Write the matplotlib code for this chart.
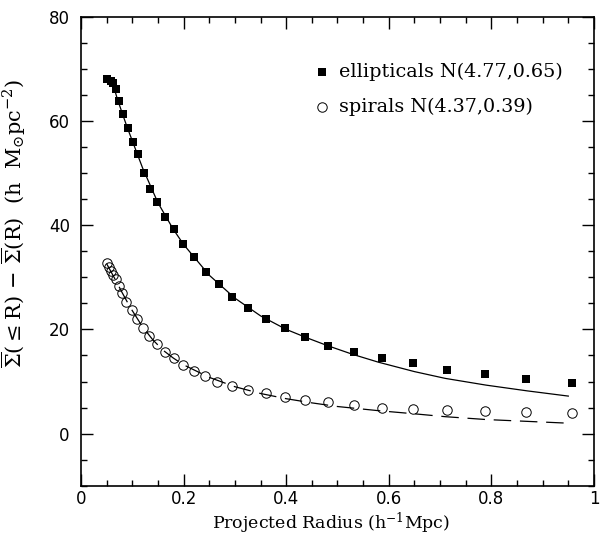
import numpy as np
import matplotlib
matplotlib.use("Agg")
import matplotlib.pyplot as plt
from matplotlib.ticker import MultipleLocator, FixedLocator, FixedFormatter

# ------  data  --------------------------------------------------------------
# ellipticals (filled squares)
r_ell = [0.050, 0.058, 0.063, 0.068, 0.075, 0.081, 0.092, 0.101, 0.111, 0.123,
         0.134, 0.148, 0.163, 0.181, 0.199, 0.220, 0.243, 0.269, 0.295, 0.326,
         0.361, 0.397, 0.437, 0.482, 0.532, 0.586, 0.647, 0.713, 0.787, 0.867,
         0.957]
s_ell = [68.0, 67.7, 67.3, 66.1, 63.9, 61.3, 58.6, 56.0, 53.6, 50.0,
         46.9, 44.4, 41.6, 39.3, 36.4, 33.8, 31.1, 28.7, 26.3, 24.2,
         21.9, 20.2, 18.5, 16.9, 15.6, 14.5, 13.5, 12.3, 11.4, 10.4,
         9.7]

# spirals (open circles)
r_sp = [0.050, 0.054, 0.058, 0.063, 0.068, 0.075, 0.079, 0.088, 0.099, 0.110,
        0.121, 0.133, 0.148, 0.164, 0.181, 0.199, 0.220, 0.242, 0.266, 0.295,
        0.326, 0.361, 0.397, 0.437, 0.482, 0.532, 0.586, 0.647, 0.713, 0.787,
        0.867, 0.957]
s_sp = [32.7, 31.9, 31.3, 30.4, 29.6, 28.3, 26.9, 25.3, 23.7, 22.0,
        20.2, 18.7, 17.2, 15.7, 14.5, 13.2, 12.0, 11.0, 10.0, 9.2,
        8.4, 7.7, 7.1, 6.4, 6.0, 5.4, 5.0, 4.7, 4.6, 4.3,
        4.2, 3.9]

# model curves
r_fit_ell = [0.063, 0.07, 0.08, 0.09, 0.10, 0.12, 0.15, 0.18, 0.20, 0.25, 0.30,
             0.35, 0.40, 0.44, 0.48, 0.53, 0.58, 0.65, 0.71, 0.79, 0.87, 0.95]
s_fit_ell = [66.9, 64.5, 61.6, 58.8, 56.2, 51.0, 44.3, 39.2, 36.3, 30.4, 26.0,
             22.6, 20.0, 18.4, 16.9, 15.2, 13.7, 11.9, 10.6, 9.3, 8.2, 7.2]

r_fit_sp = [0.050, 0.06, 0.07, 0.08, 0.09, 0.10, 0.12, 0.14, 0.16, 0.18, 0.20,
            0.25, 0.30, 0.35, 0.40, 0.45, 0.50, 0.58, 0.65, 0.71, 0.79, 0.87, 0.95]
s_fit_sp = [32.6, 30.8, 29.0, 27.1, 25.3, 23.6, 20.5, 18.0, 16.0, 14.5, 13.2,
            10.8, 9.0, 7.7, 6.7, 5.9, 5.2, 4.4, 3.8, 3.25, 2.7, 2.35, 2.0]

labels = ["ellipticals N(4.77,0.65)", "spirals N(4.37,0.39)"]

plt.rcParams['mathtext.fontset'] = 'dejavuserif'

fig = plt.figure(figsize=(6.03, 5.36), dpi=100)
ax = fig.add_axes([0.1343, 0.0938, 0.8507, 0.875])

ax.plot(r_fit_ell, s_fit_ell, color='black', lw=0.9)
ax.plot(r_fit_sp, s_fit_sp, color='black', lw=0.9, linestyle=(0, (14, 7)))
ax.plot(r_ell, s_ell, 's', color='black', ms=5.4, markeredgewidth=0)
ax.plot(r_sp, s_sp, 'o', mfc='none', mec='black', ms=6.8, mew=0.7)

ax.set_xlim(0, 1)
ax.set_ylim(-10, 80)

ax.xaxis.set_major_locator(FixedLocator([0, 0.2, 0.4, 0.6, 0.8, 1.0]))
ax.xaxis.set_major_formatter(FixedFormatter(['0', '0.2', '0.4', '0.6', '0.8', '1']))
ax.xaxis.set_minor_locator(MultipleLocator(0.05))
ax.yaxis.set_major_locator(MultipleLocator(20))
ax.yaxis.set_minor_locator(MultipleLocator(5))

ax.tick_params(which='both', direction='in', top=True, right=True,
               labelsize=12, width=1.0)
ax.tick_params(which='major', length=8.5)
ax.tick_params(which='minor', length=4.3)
ax.tick_params(axis='x', which='major', pad=3)
ax.tick_params(axis='y', which='major', pad=8)
for sp in ax.spines.values():
    sp.set_linewidth(1.2)

ax.set_xlabel("Projected Radius (h$^{-1}$Mpc)", family='DejaVu Serif',
              fontsize=12.5)
ax.xaxis.set_label_coords(0.487, -0.053)
ax.set_ylabel(r"$\overline{\Sigma}$($\leq$R)$\,-\,\overline{\Sigma}$(R)  (h  M$_{\odot}$pc$^{-2}$)",
              family='DejaVu Serif', fontsize=15)
ax.yaxis.set_label_coords(-0.104, 0.56)

# legend drawn by hand
ax.plot([0.470], [0.882], 's', color='black', ms=5.4, mew=0, transform=ax.transAxes)
ax.plot([0.470], [0.807], 'o', mfc='none', mec='black', ms=6.8, mew=0.7,
        transform=ax.transAxes)
ax.text(0.503, 0.882, labels[0], transform=ax.transAxes, va='center',
        family='DejaVu Serif', fontsize=13.8)
ax.text(0.503, 0.807, labels[1], transform=ax.transAxes, va='center',
        family='DejaVu Serif', fontsize=13.8)

fig.savefig("out.png", dpi=100)
